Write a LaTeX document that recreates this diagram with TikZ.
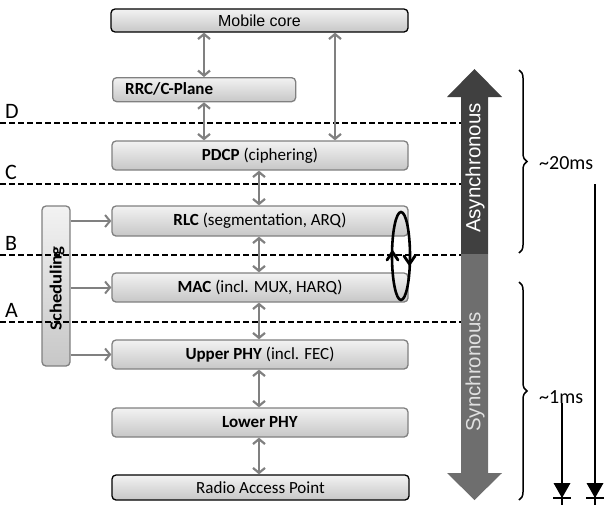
\documentclass[tikz,border=0pt]{standalone}
\usepackage{fontspec}
\setmainfont{Carlito}
\newfontfamily\arialfont{Liberation Sans}
\usetikzlibrary{arrows.meta,decorations.pathreplacing,calc}

\tikzset{
  layer/.style={draw=black!50, line width=1.3pt, rounded corners=4pt,
    top color=black!5, bottom color=black!22, inner sep=0pt,
    font=\fontsize{17}{19}\selectfont},
  endbox/.style={layer, draw=black},
  link/.style={draw=black!50, line width=2.2pt,
    {Straight Barb[length=5pt,width=12pt]}-{Straight Barb[length=5pt,width=12pt]}},
  schedlink/.style={draw=black!50, line width=2pt,
    -{Straight Barb[length=5pt,width=12pt]}},
  split/.style={draw=black, line width=1.8pt, dash pattern=on 6pt off 3pt},
  splitlabel/.style={font=\fontsize{22}{24}\selectfont, anchor=base west, inner sep=0pt},
  bracket/.style={draw=black, line width=1.5pt,
    decorate, decoration={brace, amplitude=8pt}},
  delay/.style={draw=black, line width=2.4pt},
  loop/.style={draw=black, line width=2.6pt},
  loophead/.style={draw=black, line width=2.8pt, line cap=round, line join=miter},
}

\begin{document}
\begin{tikzpicture}[x=1pt, y=-1pt]
\useasboundingbox (0,0) rectangle (612,504);

% protocol stack
\node[endbox, minimum width=297pt, minimum height=23pt, font=\arialfont\fontsize{16}{18}\selectfont] (mc) at (259.5,20.5) {Mobile core};
\node[layer, minimum width=183pt, minimum height=24pt, anchor=north west] (rrc) at (112,77) {};
\node[anchor=west, inner sep=0pt, font=\bfseries\fontsize{17}{19}\selectfont] (rrctext) at (125,89) {RRC/C-Plane};
\node[layer, minimum width=296pt, minimum height=29pt] (pdcp) at (260,155.5) {\textbf{PDCP} (ciphering)};
\node[layer, minimum width=296pt, minimum height=30pt] (rlc) at (260,221) {\textbf{RLC} (segmentation, ARQ)};
\node[layer, minimum width=296pt, minimum height=29pt] (mac) at (260,287.5) {\textbf{MAC} (incl. MUX, HARQ)};
\node[layer, minimum width=296pt, minimum height=29pt] (uphy) at (260,354.5) {\textbf{Upper PHY} (incl. FEC)};
\node[layer, minimum width=296pt, minimum height=29pt] (lphy) at (260,422.5) {\textbf{Lower PHY}};
\node[endbox, minimum width=297pt, minimum height=25pt] (rap) at (260.5,487.5) {Radio Access Point};

% scheduling block
\node[layer, minimum width=28pt, minimum height=160pt] (sched) at (56,286) {};
\node[rotate=90, inner sep=0pt, xscale=1.1, font=\bfseries\fontsize{17}{19}\selectfont] (schedtext) at (57,288.5) {Scheduling};

% split lines between the layers
\foreach \name/\yy/\lab in {D/123/D, C/184/C, B/255/B, A/322/A}{
  \coordinate (\name l) at (0,\yy);
  \coordinate (\name r) at (463,\yy);
  \draw[split] (\name l) -- (\name r);
  \node[splitlabel] (\name lab) at (5,\yy-5) {\lab};
}

% columns of the vertical links
\coordinate (c1) at (204,0);
\coordinate (c2) at (335,0);
\coordinate (c3) at (259,0);

\draw[link] (mc.south -| c1) -- (rrc.north -| c1);
\draw[link] (mc.south -| c2) -- (pdcp.north -| c2);
\draw[link] (rrc.south -| c1) -- (pdcp.north -| c1);
\draw[link] (pdcp.south -| c3) -- (rlc.north -| c3);
\draw[link] (rlc.south -| c3) -- (mac.north -| c3);
\draw[link] (mac.south -| c3) -- (uphy.north -| c3);
\draw[link] (uphy.south -| c3) -- (lphy.north -| c3);
\draw[link] (lphy.south -| c3) -- (rap.north -| c3);

\draw[schedlink] (sched.east |- rlc.west) -- (rlc.west);
\draw[schedlink] (sched.east |- mac.west) -- (mac.west);
\draw[schedlink] (sched.east |- uphy.west) -- (uphy.west);

% RLC/MAC feedback loop with its direction marks
\coordinate (loopc) at (401,256);
\draw[loop] (loopc) ellipse (9 and 44);
\coordinate (uptip) at (392.5,252);
\coordinate (dntip) at (409.5,264);
\draw[loophead] ([shift={(-5.5,8)}]uptip) -- (uptip) -- ([shift={(5.5,8)}]uptip);
\draw[loophead] ([shift={(-5.5,-8)}]dntip) -- (dntip) -- ([shift={(5.5,-8)}]dntip);

% timing arrow
\fill[black!75] (461,254) -- (461,97) -- (447,97) -- (474.5,69) -- (502,97) -- (488,97) -- (488,254) -- cycle;
\fill[black!57] (461,254) -- (461,473) -- (447,473) -- (474.5,500) -- (502,473) -- (488,473) -- (488,254) -- cycle;
\node[rotate=90, text=white, inner sep=0pt, font=\arialfont\fontsize{20.5}{22}\selectfont] (async) at (475,168) {Asynchronous};
\node[rotate=90, text=black!12, inner sep=0pt, font=\arialfont\fontsize{20.5}{22}\selectfont] (sync) at (475,372) {Synchronous};

% latency braces
\coordinate (b1t) at (519,70);
\coordinate (b1b) at (519,253);
\coordinate (b2t) at (519,282);
\coordinate (b2b) at (519,500);
\draw[bracket] (b1t) -- (b1b);
\draw[bracket] (b2t) -- (b2b);
\node[anchor=west, inner sep=0pt, font=\fontsize{20}{22}\selectfont] (t20) at (539,163) {\textasciitilde 20ms};
\node[anchor=west, inner sep=0pt, font=\fontsize{20}{22}\selectfont] (t1) at (539,397) {\textasciitilde 1ms};

% latency arrows: shaft, filled head and end bar
\coordinate (l1s) at (595,184);
\coordinate (l1e) at (595,498);
\coordinate (l2s) at (562,403);
\coordinate (l2e) at (562,498);
\draw[delay] (l1s) -- ([yshift=-12pt]l1e);
\draw[delay] (l2s) -- ([yshift=-12pt]l2e);
\fill[black] (l1e) -- ++(-8.5,-15) -- ++(17,0) -- cycle;
\fill[black] (l2e) -- ++(-8.5,-15) -- ++(17,0) -- cycle;
\draw[draw=black, line width=2pt] ([xshift=-9pt]l1e) -- ([xshift=9pt]l1e);
\draw[draw=black, line width=2pt] ([xshift=-9pt]l2e) -- ([xshift=9pt]l2e);
\end{tikzpicture}
\end{document}
